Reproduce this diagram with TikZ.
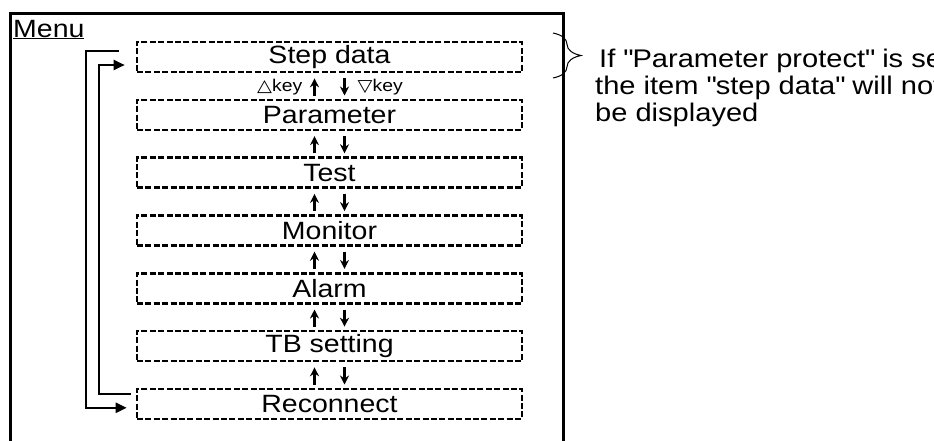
\documentclass[tikz,border=0pt]{standalone}
\usepackage{fontspec}
\setmainfont{Liberation Sans}[FakeStretch=1.14]
\newfontfamily\symbfont{DejaVu Sans}[FakeStretch=1.14]
\usetikzlibrary{calc,arrows.meta,decorations.pathreplacing}

\begin{document}
\begin{tikzpicture}[x=1pt,y=-1pt,
  menuitem/.style={draw,line width=2.6pt,dash pattern=on 6pt off 2.4pt,
    minimum width=385pt,minimum height=30pt,inner sep=0pt,
    font=\fontsize{25}{28}\selectfont},
  uparrow/.style={line width=2.5pt,-{Stealth[length=9pt,width=9pt]},
    shorten <=3pt,shorten >=5pt},
  downarrow/.style={line width=2.5pt,-{Stealth[length=9pt,width=9pt]},
    shorten <=5pt,shorten >=3pt},
  backline/.style={line width=2.2pt,-{Triangle[length=11pt,width=10pt]}},
  keylbl/.style={font=\fontsize{17}{19}\selectfont,inner sep=0pt}]
  \useasboundingbox (0,0) rectangle (934,440);

  % frame, open at the bottom
  \draw[line width=3pt] (10,446) -- (10,13) -- (563,13) -- (563,446);
  \node[anchor=base west,inner sep=0pt,font=\fontsize{25}{28}\selectfont] (menu) at (13,37) {\underline{Menu}};

  % menu items
  \node[menuitem] (step)    at (329.5,57)    {Step data};
  \node[menuitem] (param)   at (329.5,114.8) {Parameter};
  \node[menuitem] (test)    at (329.5,172.6) {Test};
  \node[menuitem] (monitor) at (329.5,230.4) {Monitor};
  \node[menuitem] (alarm)   at (329.5,288.2) {Alarm};
  \node[menuitem] (tbset)   at (329.5,346)   {TB setting};
  \node[menuitem] (recon)   at (329.5,403.8) {Reconnect};

  % up / down keys
  \draw[uparrow]   ([xshift=-15pt]param.north) -- ([xshift=-15pt]step.south);
  \draw[downarrow] ([xshift=15pt]step.south) -- ([xshift=15pt]param.north);
  \draw[uparrow]   ([xshift=-15pt]test.north) -- ([xshift=-15pt]param.south);
  \draw[downarrow] ([xshift=15pt]param.south) -- ([xshift=15pt]test.north);
  \draw[uparrow]   ([xshift=-15pt]monitor.north) -- ([xshift=-15pt]test.south);
  \draw[downarrow] ([xshift=15pt]test.south) -- ([xshift=15pt]monitor.north);
  \draw[uparrow]   ([xshift=-15pt]alarm.north) -- ([xshift=-15pt]monitor.south);
  \draw[downarrow] ([xshift=15pt]monitor.south) -- ([xshift=15pt]alarm.north);
  \draw[uparrow]   ([xshift=-15pt]tbset.north) -- ([xshift=-15pt]alarm.south);
  \draw[downarrow] ([xshift=15pt]alarm.south) -- ([xshift=15pt]tbset.north);
  \draw[uparrow]   ([xshift=-15pt]recon.north) -- ([xshift=-15pt]tbset.south);
  \draw[downarrow] ([xshift=15pt]tbset.south) -- ([xshift=15pt]recon.north);

  \node[keylbl,anchor=east] (keyup)   at ($(step.south)!0.5!(param.north)+(-27,1)$) {{\symbfont △}key};
  \node[keylbl,anchor=west] (keydown) at ($(step.south)!0.5!(param.north)+(28,1)$)  {{\symbfont ▽}key};

  % wrap-around lines
  \coordinate (topend) at ([shift={(-17pt,6pt)}]step.west);
  \coordinate (botend) at ([shift={(-5pt,10pt)}]recon.west);
  \draw[backline] (topend) -- ++(-33,0) |- ([shift={(-9pt,-4pt)}]recon.west);
  \draw[backline] (botend) -- ++(-32,0) |- ([shift={(-11pt,-8pt)}]step.west);

  % note on parameter protect
  \coordinate (bracetop) at (553,33);
  \coordinate (bracebot) at (553,78);
  \draw[line width=1pt,decorate,decoration={brace,amplitude=28pt}] (bracetop) -- (bracebot);
  \node[anchor=base west,align=left,inner sep=0pt,font=\fontsize{25.5}{27}\selectfont] (note) at (595,121)
    {\hspace*{4pt}If \textquotedbl Parameter protect\textquotedbl{} is set,\\the item \textquotedbl step data\textquotedbl{} will not\\be displayed};
\end{tikzpicture}
\end{document}
